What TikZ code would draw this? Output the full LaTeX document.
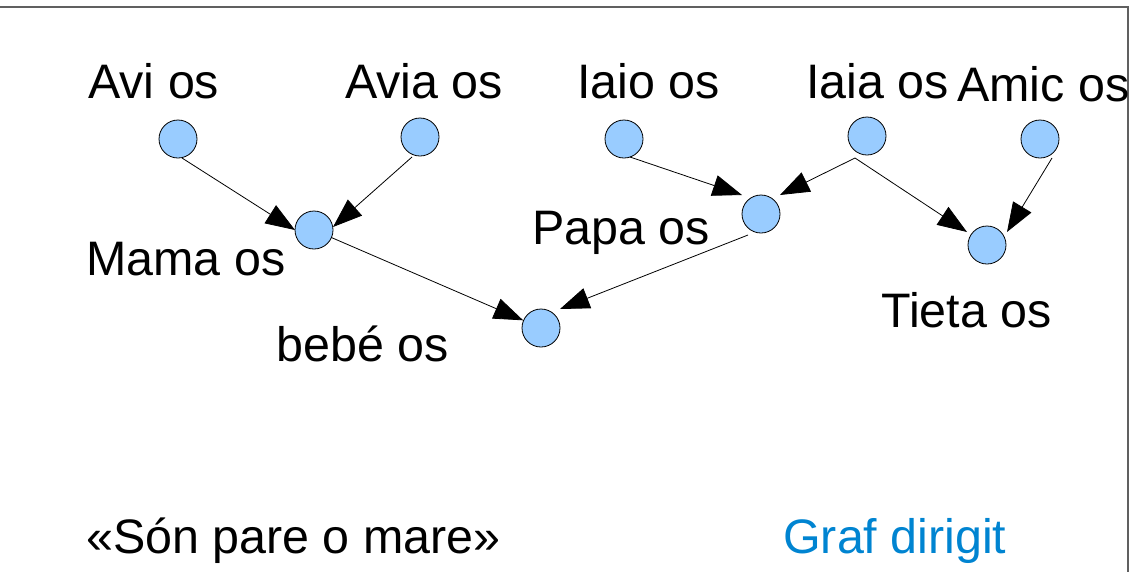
\documentclass[tikz,border=0pt]{standalone}
\usepackage{fontspec}
\setmainfont{Liberation Sans}
\usetikzlibrary{arrows.meta}
\definecolor{nodeblue}{HTML}{99CCFF}
\definecolor{titleblue}{HTML}{0084D1}
\definecolor{frame}{HTML}{606060}
\begin{document}
\begin{tikzpicture}[x=0.75pt,y=-0.75pt,
  person/.style={circle,draw=black,line width=0.6pt,fill=nodeblue,minimum size=28.5pt,inner sep=0pt},
  lbl/.style={anchor=base west,inner sep=0pt,font=\fontsize{36.3}{43}\selectfont},
  link/.style={line width=0.6pt,-{Triangle[length=22pt,width=16pt]}}]
\useasboundingbox (0,0) rectangle (1134,572);
% frame edges
\draw[frame,line width=1.5pt] (0,7) -- (1128,7) -- (1128,572);
% family members
\node[person] (avi)   at (178,139) {};
\node[person] (avia)  at (420,137) {};
\node[person] (iaio)  at (624,139) {};
\node[person] (iaia)  at (867,136) {};
\node[person] (amic)  at (1040,139) {};
\node[person] (mama)  at (314,230) {};
\node[person] (papa)  at (761,214) {};
\node[person] (tieta) at (987,245) {};
\node[person] (bebe)  at (541,328) {};
\coordinate (iaiaout) at ([shift={(-12,22)}]iaia.center);
% names
\node[lbl] (tavi)   at (88,98)   {Avi os};
\node[lbl] (tavia)  at (345,98)  {Avia os};
\node[lbl] (tiaio)  at (577,98)  {Iaio os};
\node[lbl] (tiaia)  at (806,98)  {Iaia os};
\node[lbl] (tamic)  at (957,101) {Amic os};
\node[lbl] (tmama)  at (86,275)  {Mama os};
\node[lbl] (tpapa)  at (532,244) {Papa os};
\node[lbl] (ttieta) at (881,327) {Tieta os};
\node[lbl] (tbebe)  at (276,361) {bebé os};
\node[lbl] (trel)   at (86,553)  {«Són pare o mare»};
\node[lbl,text=titleblue] (tkind) at (783,553) {Graf dirigit};
% "is parent of" links
\draw[link] ([shift={(4,19)}]avi.center) -- ([shift={(-19,0)}]mama.center);
\draw[link] ([shift={(-8,20)}]avia.center) -- ([shift={(19,-3)}]mama.center);
\draw[link] (mama) -- (bebe);
\draw[link] ([shift={(-13,21)}]papa.center) -- ([shift={(19,-19)}]bebe.center);
\draw[link] ([shift={(6,18)}]iaio.center) -- ([shift={(-19,-19)}]papa.center);
\draw[link] (iaiaout) -- ([shift={(19,-19)}]papa.center);
\draw[link] (iaiaout) -- ([shift={(-20,-13)}]tieta.center);
\draw[link] ([shift={(12,19)}]amic.center) -- ([shift={(20,-13)}]tieta.center);
\end{tikzpicture}
\end{document}
